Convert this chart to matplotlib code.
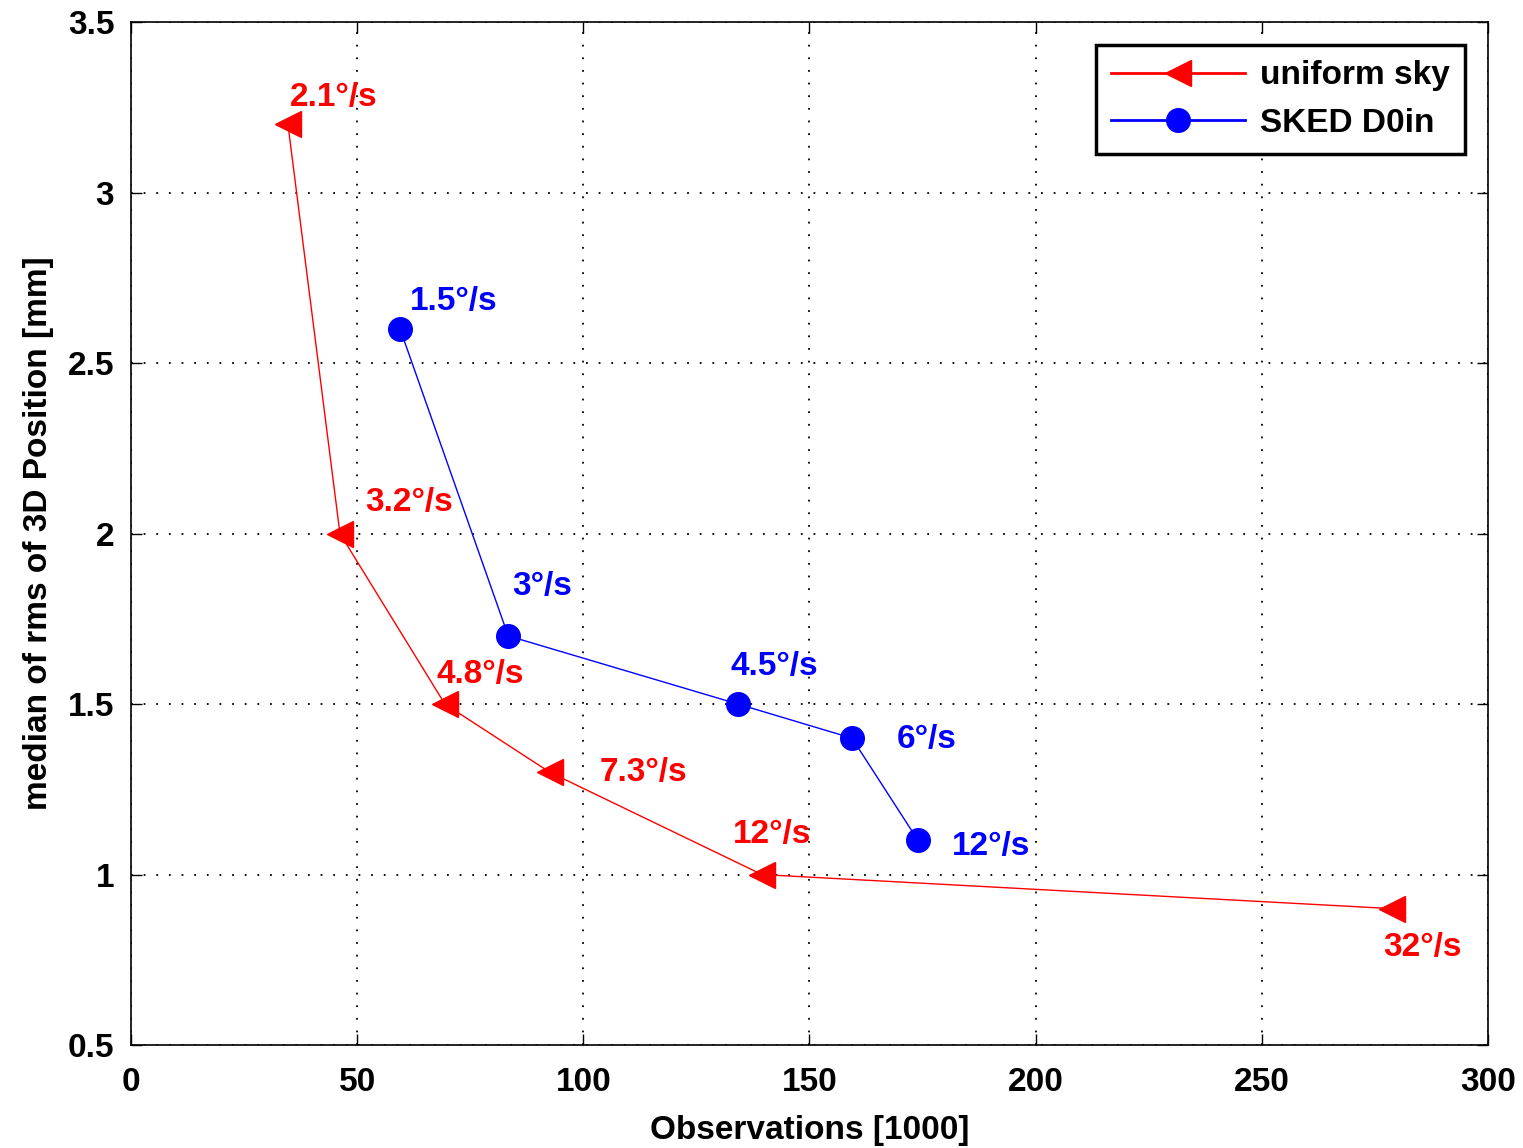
import matplotlib
matplotlib.use("Agg")
from matplotlib import pyplot as plt
import numpy as np

plt.rcParams['font.family'] = ['Liberation Sans', 'DejaVu Sans']

# uniform sky schedules (slew speed in deg/s)
uni_obs = [34.7, 46.2, 69.4, 92.6, 139.5, 278.8]
uni_rms = [3.2, 2.0, 1.5, 1.3, 1.0, 0.9]
uni_speed = ["2.1°/s", "3.2°/s", "4.8°/s", "7.3°/s", "12°/s", "32°/s"]

# SKED D0in schedules
sked_obs = [59.5, 83.4, 134.2, 159.4, 174.0]
sked_rms = [2.6, 1.7, 1.5, 1.4, 1.1]
sked_speed = ["1.5°/s", "3°/s", "4.5°/s", "6°/s", "12°/s"]

# label offsets in pixels
uni_off = [(2, 27), (25, 31), (-8, 30), (50, 0), (-29, 40), (-9, -39)]
sked_off = [(10, 28), (4, 49), (-8, 38), (45, -1), (34, -6)]

FS = 24

fig = plt.figure(figsize=(15.23, 11.48), dpi=100)
ax = fig.add_axes([0.086, 0.0897, 0.891, 0.891])

ax.plot(uni_obs, uni_rms, color='red', lw=1.0, marker='<', ms=19,
        label='uniform sky')
ax.plot(sked_obs, sked_rms, color='blue', lw=1.0, marker='o', ms=17,
        label='SKED D0in')

for x, y, s, (dx, dy) in zip(uni_obs, uni_rms, uni_speed, uni_off):
    ax.annotate(s, (x, y), xytext=(dx, dy), textcoords='offset pixels',
                color='red', fontsize=FS, fontweight='bold', va='center')
for x, y, s, (dx, dy) in zip(sked_obs, sked_rms, sked_speed, sked_off):
    ax.annotate(s, (x, y), xytext=(dx, dy), textcoords='offset pixels',
                color='blue', fontsize=FS, fontweight='bold', va='center')

ax.set_xlim(0, 300)
ax.set_ylim(0.5, 3.5)
ax.set_xticks(np.arange(0, 301, 50))
ax.set_yticks([0.5, 1, 1.5, 2, 2.5, 3, 3.5])
ax.set_yticklabels(['0.5', '1', '1.5', '2', '2.5', '3', '3.5'])
ax.tick_params(direction='in', top=True, right=True, length=8, width=1,
               labelsize=FS)
ax.tick_params(axis='x', pad=16)
ax.tick_params(axis='y', pad=12)
for lab in ax.get_xticklabels() + ax.get_yticklabels():
    lab.set_fontweight('bold')
ax.grid(True, color='black', linestyle=(0, (1, 6)), lw=1.3)
for sp in ax.spines.values():
    sp.set_linewidth(1.2)

ax.set_xlabel('Observations [1000]', fontsize=FS, fontweight='bold', labelpad=12)
ax.set_ylabel('median of rms of 3D Position [mm]', fontsize=FS,
              fontweight='bold', labelpad=10)

leg = ax.legend(loc='upper right', fancybox=False, framealpha=1,
                edgecolor='black', handlelength=4.0, handletextpad=0.45,
                borderaxespad=0.7, borderpad=0.45,
                prop={'weight': 'bold', 'size': FS})
leg.get_frame().set_linewidth(2.5)
for ln in leg.get_lines():
    ln.set_linewidth(2.0)

fig.savefig('out.png', dpi=100)
